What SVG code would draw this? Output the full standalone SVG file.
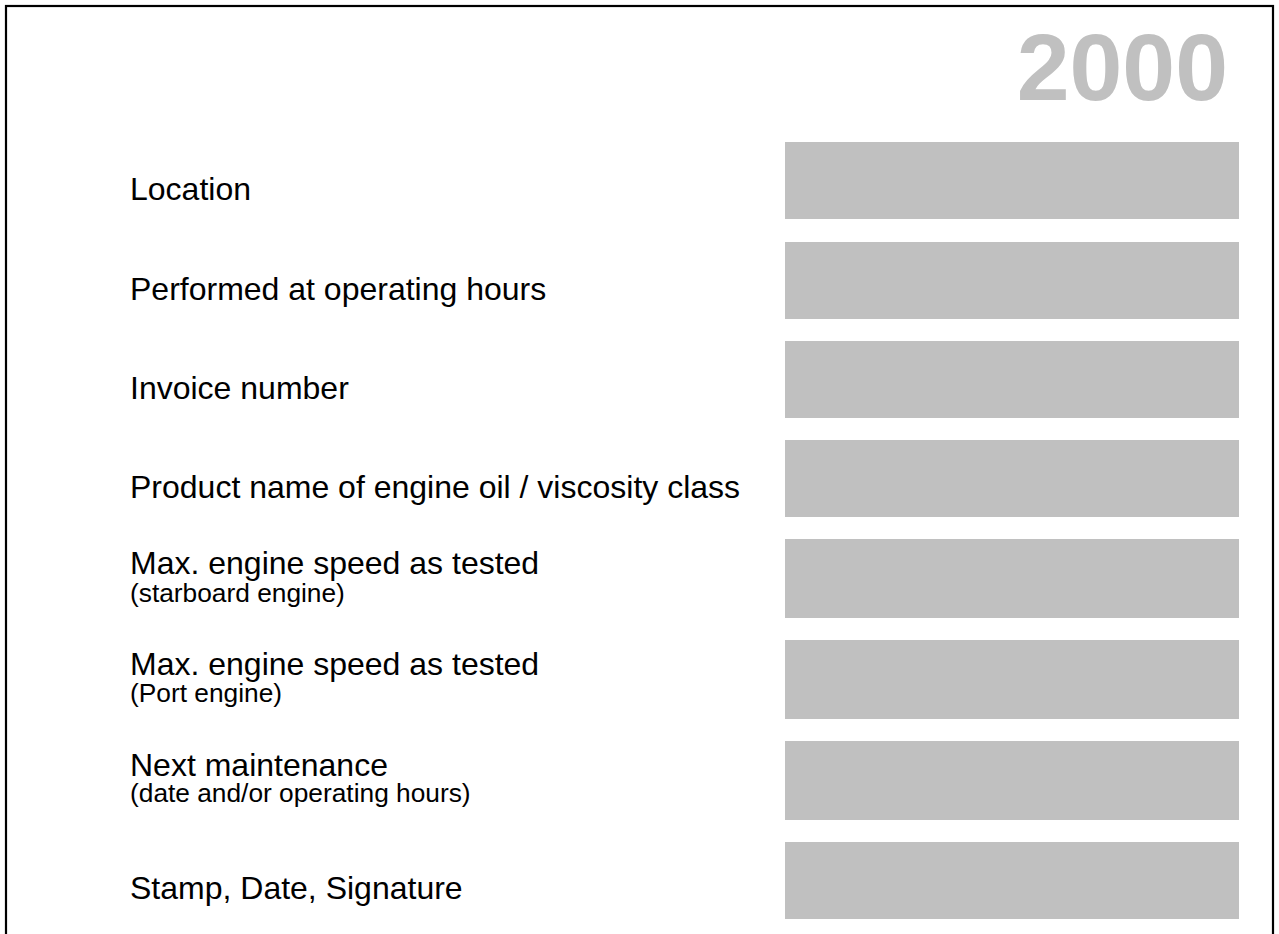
<svg xmlns="http://www.w3.org/2000/svg" width="1279" height="934" viewBox="0 0 1279 934">
  <style>
    .lbl { font-family: "Liberation Sans", Arial, sans-serif; font-size: 32px; fill: #000; }
    .sub { font-family: "Liberation Sans", Arial, sans-serif; font-size: 26.3px; fill: #000; }
    .box { fill: #c0c0c0; }
    .title { font-family: "Liberation Sans", Arial, sans-serif; font-size: 95px; font-weight: bold; fill: #c0c0c0; }
  </style>
  <rect x="0" y="0" width="1279" height="934" fill="#fff"/>
  <rect id="frame" x="6" y="6" width="1267" height="1000" fill="none" stroke="#000" stroke-width="2.2"/>
  <text id="year" class="title" x="1228" y="100" text-anchor="end">2000</text>

  <g id="row-location">
    <text class="lbl" x="130" y="200">Location</text>
    <rect class="box" x="785" y="142" width="454" height="77"/>
  </g>
  <g id="row-hours">
    <text class="lbl" x="130" y="300">Performed at operating hours</text>
    <rect class="box" x="785" y="242" width="454" height="77"/>
  </g>
  <g id="row-invoice">
    <text class="lbl" x="130" y="399">Invoice number</text>
    <rect class="box" x="785" y="341" width="454" height="77"/>
  </g>
  <g id="row-oil">
    <text class="lbl" x="130" y="498">Product name of engine oil / viscosity class</text>
    <rect class="box" x="785" y="440" width="454" height="77"/>
  </g>
  <g id="row-starboard">
    <text class="lbl" x="130" y="574">Max. engine speed as tested</text>
    <text class="sub" x="130" y="602">(starboard engine)</text>
    <rect class="box" x="785" y="539" width="454" height="79"/>
  </g>
  <g id="row-port">
    <text class="lbl" x="130" y="675">Max. engine speed as tested</text>
    <text class="sub" x="130" y="702">(Port engine)</text>
    <rect class="box" x="785" y="640" width="454" height="79"/>
  </g>
  <g id="row-next">
    <text class="lbl" x="130" y="776">Next maintenance</text>
    <text class="sub" x="130" y="802">(date and/or operating hours)</text>
    <rect class="box" x="785" y="741" width="454" height="79"/>
  </g>
  <g id="row-stamp">
    <text class="lbl" x="130" y="899">Stamp, Date, Signature</text>
    <rect class="box" x="785" y="842" width="454" height="77"/>
  </g>
  <g id="connectors"></g>
</svg>
